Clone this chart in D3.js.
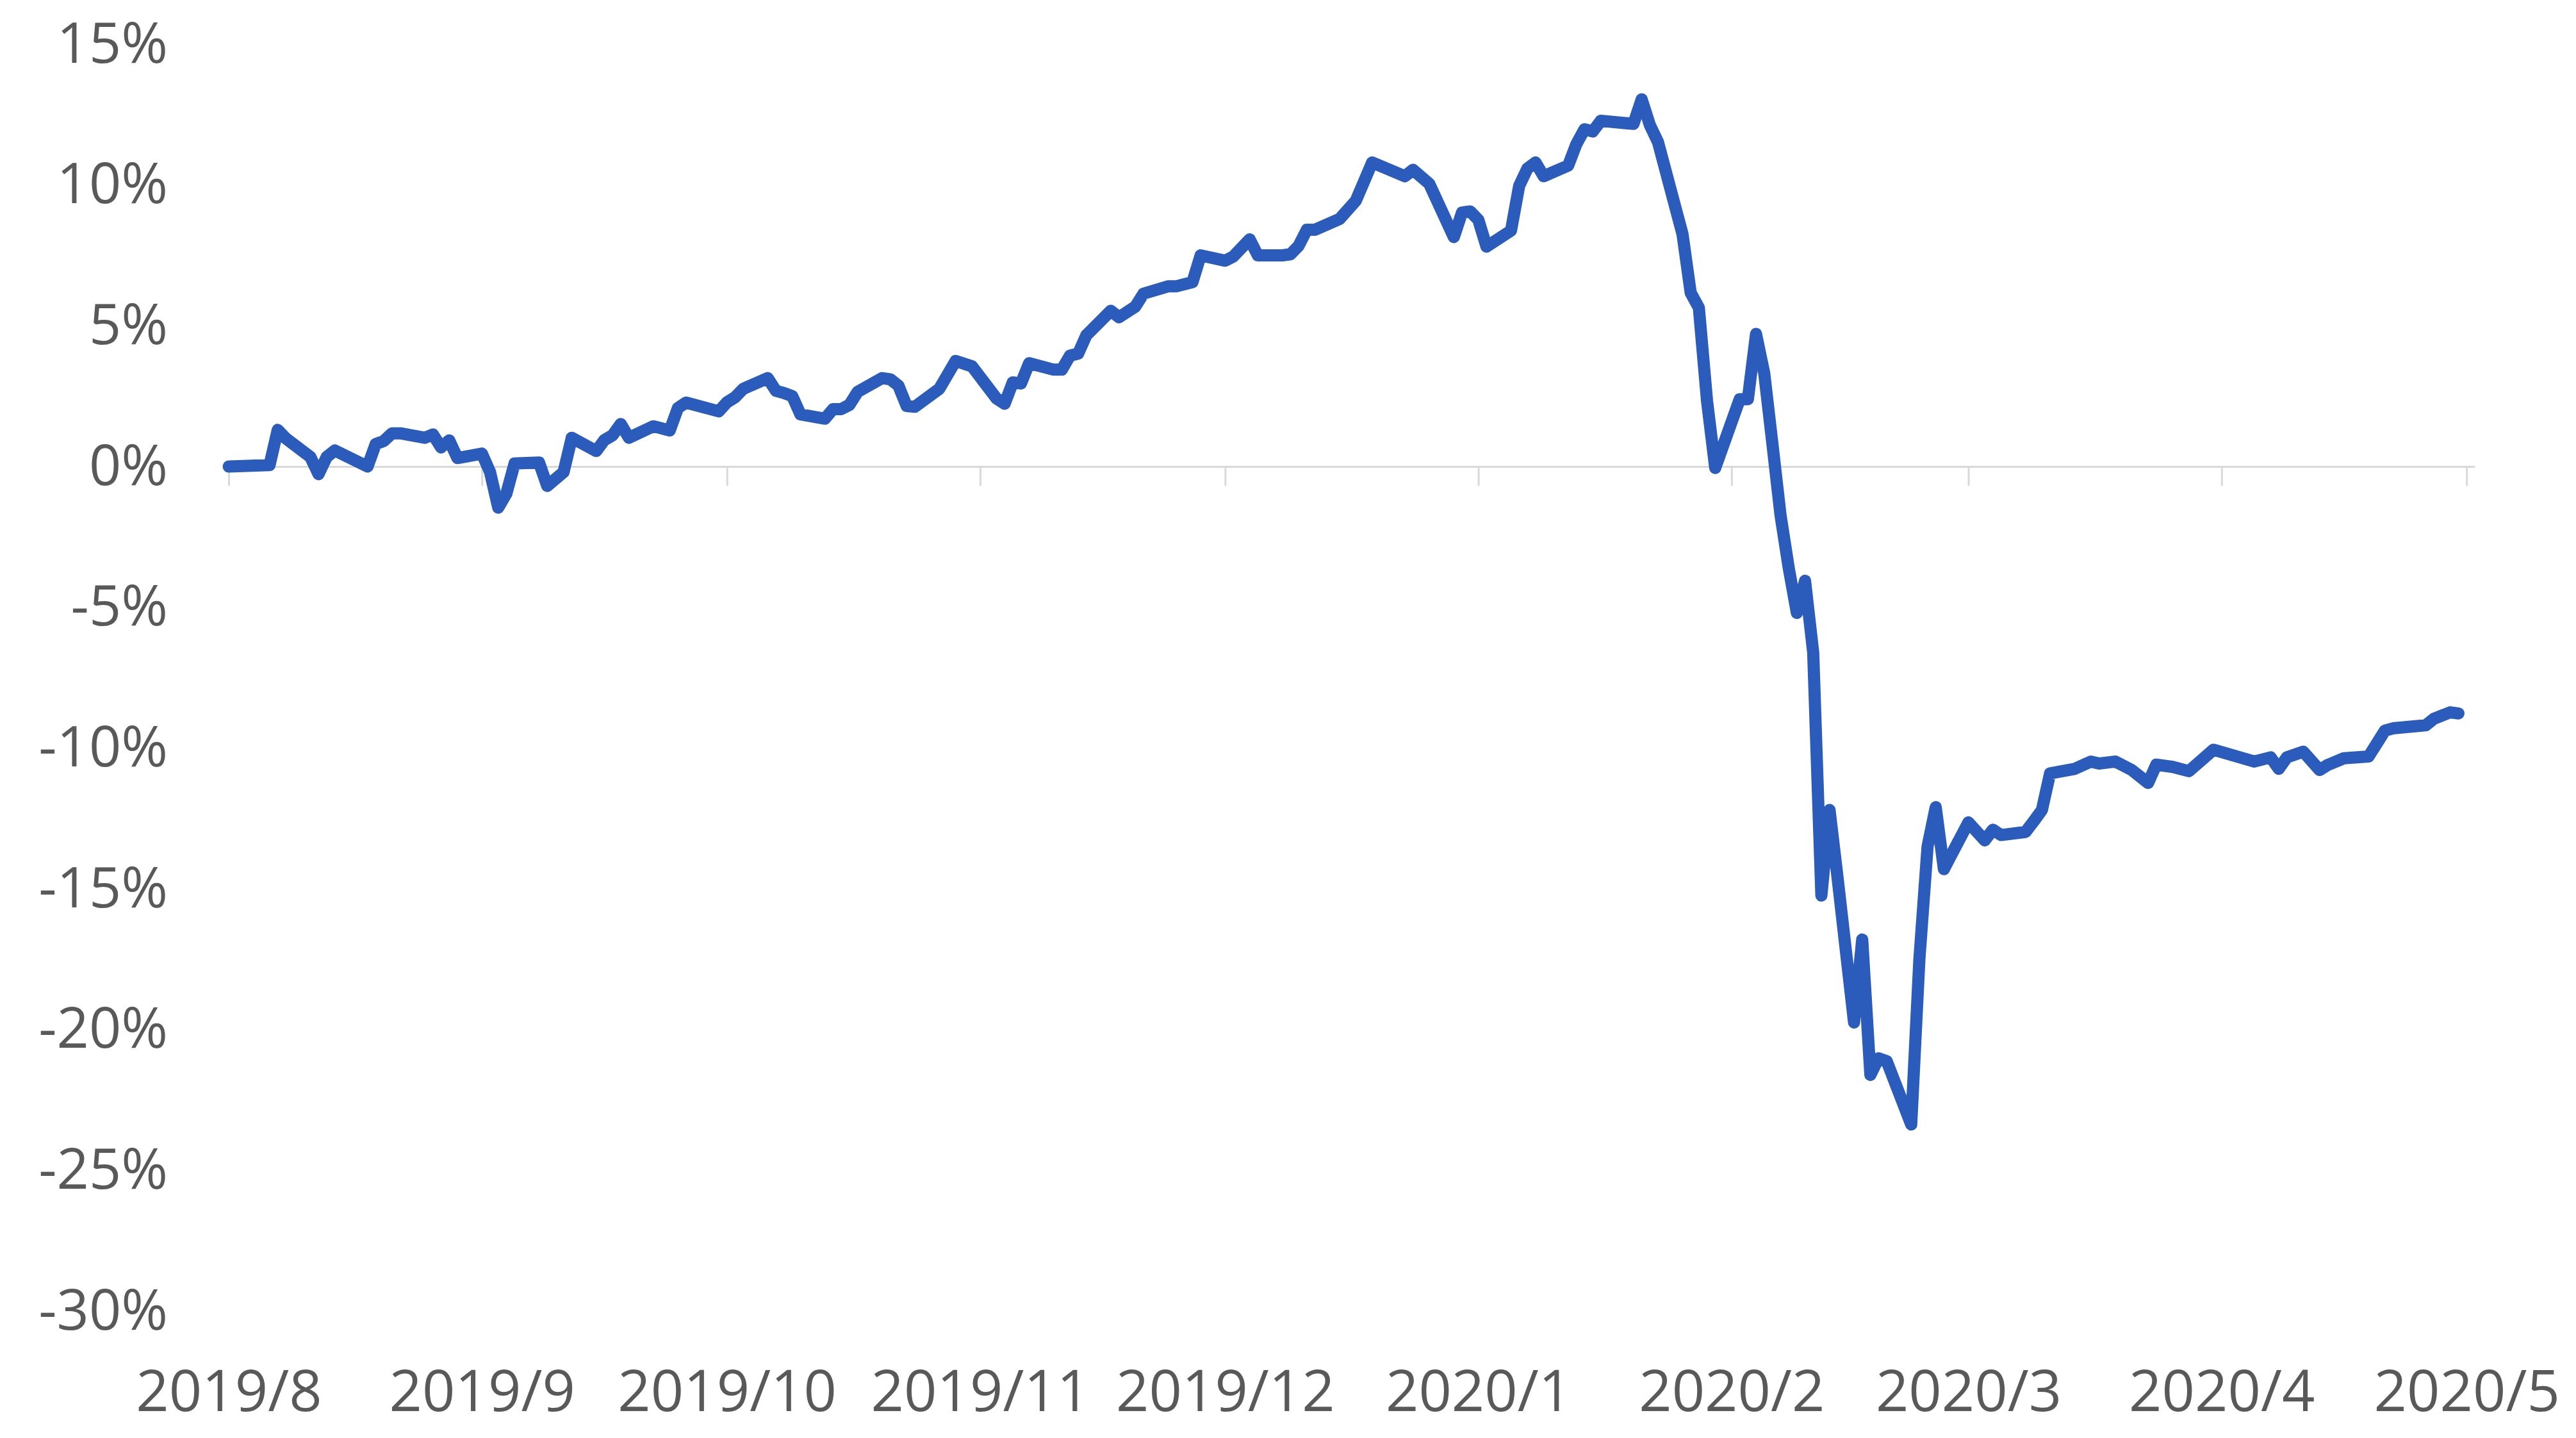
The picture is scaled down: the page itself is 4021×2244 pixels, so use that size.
<!DOCTYPE html>
<html>
<head>
<meta charset="utf-8">
<script src="https://cdn.jsdelivr.net/npm/d3@7"></script>
<style>
  html, body { margin: 0; padding: 0; background: #fff; }
  svg { display: block; font-family: 'Open Sans', sans-serif; }
</style>
</head>
<body>
<svg id="canvas"></svg>
<script>
// cumulative return since 2019-08-01, in %
const dates = [
  '2019-08-01', '2019-08-06', '2019-08-07', '2019-08-08', '2019-08-11', '2019-08-12', '2019-08-13', '2019-08-14',
  '2019-08-18', '2019-08-19', '2019-08-20', '2019-08-21', '2019-08-22', '2019-08-25', '2019-08-26', '2019-08-27',
  '2019-08-28', '2019-08-29', '2019-09-01', '2019-09-02', '2019-09-03', '2019-09-04', '2019-09-05', '2019-09-08',
  '2019-09-09', '2019-09-11', '2019-09-12', '2019-09-15', '2019-09-16', '2019-09-17', '2019-09-18', '2019-09-19',
  '2019-09-22', '2019-09-24', '2019-09-25', '2019-09-26', '2019-09-30', '2019-10-01', '2019-10-02', '2019-10-03',
  '2019-10-06', '2019-10-07', '2019-10-08', '2019-10-09', '2019-10-10', '2019-10-13', '2019-10-14', '2019-10-15',
  '2019-10-16', '2019-10-17', '2019-10-20', '2019-10-21', '2019-10-22', '2019-10-23', '2019-10-24', '2019-10-27',
  '2019-10-29', '2019-10-31', '2019-11-03', '2019-11-04', '2019-11-05', '2019-11-06', '2019-11-07', '2019-11-10',
  '2019-11-11', '2019-11-12', '2019-11-13', '2019-11-14', '2019-11-17', '2019-11-18', '2019-11-20', '2019-11-21',
  '2019-11-24', '2019-11-25', '2019-11-27', '2019-11-28', '2019-12-01', '2019-12-02', '2019-12-04', '2019-12-05',
  '2019-12-08', '2019-12-09', '2019-12-10', '2019-12-11', '2019-12-12', '2019-12-15', '2019-12-17', '2019-12-19',
  '2019-12-23', '2019-12-24', '2019-12-26', '2019-12-29', '2019-12-30', '2019-12-31', '2020-01-01', '2020-01-02',
  '2020-01-05', '2020-01-06', '2020-01-07', '2020-01-08', '2020-01-09', '2020-01-12', '2020-01-13', '2020-01-14',
  '2020-01-15', '2020-01-16', '2020-01-20', '2020-01-21', '2020-01-22', '2020-01-23', '2020-01-26', '2020-01-27',
  '2020-01-28', '2020-01-29', '2020-01-30', '2020-02-02', '2020-02-03', '2020-02-04', '2020-02-05', '2020-02-06',
  '2020-02-07', '2020-02-08', '2020-02-09', '2020-02-10', '2020-02-11', '2020-02-12', '2020-02-13', '2020-02-14',
  '2020-02-16', '2020-02-17', '2020-02-18', '2020-02-19', '2020-02-20', '2020-02-23', '2020-02-24', '2020-02-25',
  '2020-02-26', '2020-02-27', '2020-03-01', '2020-03-03', '2020-03-04', '2020-03-05', '2020-03-08', '2020-03-09',
  '2020-03-10', '2020-03-11', '2020-03-14', '2020-03-16', '2020-03-17', '2020-03-19', '2020-03-21', '2020-03-23',
  '2020-03-24', '2020-03-26', '2020-03-28', '2020-03-31', '2020-04-05', '2020-04-07', '2020-04-08', '2020-04-09',
  '2020-04-11', '2020-04-13', '2020-04-14', '2020-04-16', '2020-04-19', '2020-04-21', '2020-04-22', '2020-04-26',
  '2020-04-27', '2020-04-29', '2020-04-30'
]
const values = [
  0.0, 0.05, 1.3, 1.0, 0.34, -0.27, 0.34, 0.57,
  0.0, 0.8, 0.91, 1.18, 1.18, 1.02, 1.14, 0.68,
  0.93, 0.3, 0.46, -0.2, -1.46, -0.96, 0.11, 0.14,
  -0.69, -0.2, 1.02, 0.55, 0.94, 1.11, 1.51, 1.02,
  1.43, 1.28, 2.08, 2.27, 1.96, 2.28, 2.46, 2.76,
  3.14, 2.69, 2.61, 2.5, 1.85, 1.7, 2.04, 2.04,
  2.19, 2.65, 3.14, 3.1, 2.87, 2.15, 2.12, 2.76,
  3.75, 3.56, 2.42, 2.23, 2.99, 2.95, 3.67, 3.44,
  3.44, 3.94, 4.01, 4.66, 5.53, 5.3, 5.68, 6.14,
  6.4, 6.4, 6.55, 7.5, 7.31, 7.46, 8.07, 7.5,
  7.5, 7.54, 7.84, 8.41, 8.41, 8.79, 9.44, 10.8,
  10.31, 10.54, 10.04, 8.15, 9.02, 9.06, 8.76, 7.81,
  8.38, 9.97, 10.58, 10.8, 10.31, 10.69, 11.45, 11.98,
  11.9, 12.28, 12.17, 13.04, 12.13, 11.52, 8.25, 6.17,
  5.64, 2.33, -0.05, 2.39, 2.39, 4.71, 3.32, 0.82,
  -1.73, -3.6, -5.2, -4.06, -6.61, -15.24, -12.2, -14.65,
  -19.75, -16.8, -21.61, -21.02, -21.12, -23.37, -17.5, -13.5,
  -12.1, -14.3, -12.64, -13.28, -12.9, -13.09, -12.98, -12.6,
  -12.2, -10.9, -10.74, -10.48, -10.55, -10.48, -10.78, -11.24,
  -10.59, -10.67, -10.82, -10.06, -10.48, -10.33, -10.74, -10.33,
  -10.13, -10.78, -10.6, -10.36, -10.3, -9.38, -9.3, -9.19,
  -8.96, -8.73, -8.77
]
const yTicks = [-30, -25, -20, -15, -10, -5, 0, 5, 10, 15]
const monthTicks = [
  '2019-08-01', '2019-09-01', '2019-10-01', '2019-11-01', '2019-12-01',
  '2020-01-01', '2020-02-01', '2020-03-01', '2020-04-01', '2020-05-01'
]

const w = 4021
const h = 2244
const parseDate = d3.timeParse('%Y-%m-%d')
const data = dates.map((d, i) => ({ date: parseDate(d), value: values[i] }))

const canvas = d3.select('#canvas')
  .attr('width', w)
  .attr('height', h)

const xScale = d3.scaleTime()
  .domain([parseDate('2019-08-01'), parseDate('2020-05-02')])
  .range([357, 3863])

const yScale = d3.scaleLinear()
  .domain([-30, 15])
  .range([2046, 69])

// zero line with month ticks
const zeroAxis = d3.axisBottom(xScale)
  .tickValues(monthTicks.map(parseDate))
  .tickSize(30)
  .tickSizeOuter(0)
  .tickFormat('')

canvas.append('g')
  .attr('transform', 'translate(0,' + yScale(0) + ')')
  .call(zeroAxis)
  .call(g => g.selectAll('path, line').attr('stroke', '#d9d9d9').attr('stroke-width', 3))

// month labels sit at the bottom of the chart
const labelAxis = d3.axisBottom(xScale)
  .tickValues(monthTicks.map(parseDate))
  .tickSize(0)
  .tickPadding(0)
  .tickFormat(d3.timeFormat('%Y/%-m'))

canvas.append('g')
  .attr('transform', 'translate(0,2138)')
  .call(labelAxis)
  .call(g => g.select('.domain').remove())
  .call(g => g.selectAll('text')
    .attr('fill', '#595959')
    .style('font-size', '90px')
    .style('font-family', "'Open Sans', sans-serif"))

const yAxis = d3.axisLeft(yScale)
  .tickValues(yTicks)
  .tickSize(0)
  .tickPadding(0)
  .tickFormat(d => d + '%')

canvas.append('g')
  .attr('transform', 'translate(262,0)')
  .call(yAxis)
  .call(g => g.select('.domain').remove())
  .call(g => g.selectAll('text')
    .attr('fill', '#595959')
    .style('font-size', '88px')
    .style('font-family', "'Open Sans', sans-serif"))

const line = d3.line()
  .x(d => xScale(d.date))
  .y(d => yScale(d.value))

canvas.append('path')
  .datum(data)
  .attr('d', line)
  .attr('fill', 'none')
  .attr('stroke', '#2b5cbb')
  .attr('stroke-width', 19)
  .attr('stroke-linejoin', 'round')
  .attr('stroke-linecap', 'round')
</script>
</body>
</html>
